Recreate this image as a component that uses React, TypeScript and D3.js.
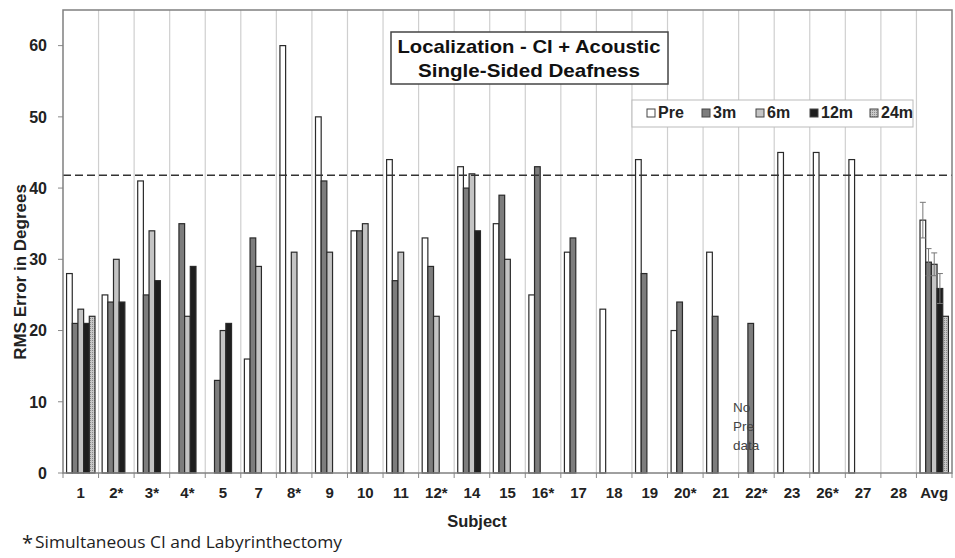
import React from "react";
import * as d3 from "d3";

const categories = ["1","2*","3*","4*","5","7","8*","9","10","11","12*","14","15","16*","17","18","19","20*","21","22*","23","26*","27","28","Avg"];
const seriesNames = ["Pre","3m","6m","12m","24m"];
const N = null;
const pre = [28,25,41,N,N,16,60,50,34,44,33,43,35,25,31,23,44,20,31,N,45,45,44,N,35.5];
const m3 = [21,24,25,35,13,33,N,41,34,27,29,40,39,43,33,N,28,24,22,21,N,N,N,N,29.6];
const m6 = [23,30,34,22,20,29,31,31,35,31,22,42,30,N,N,N,N,N,N,N,N,N,N,N,29.3];
const m12 = [21,24,27,29,21,N,N,N,N,N,N,34,N,N,N,N,N,N,N,N,N,N,N,N,25.9];
const m24 = [22,N,N,N,N,N,N,N,N,N,N,N,N,N,N,N,N,N,N,N,N,N,N,N,22];
const avgErr = [2.5,1.9,1.6,2.1,0];
const yTicks = [0,10,20,30,40,50,60];
const refLine = 41.8;

const seriesData = [pre, m3, m6, m12, m24];
const fills = ["#ffffff", "#7d7d7d", "#c4c4c4", "#1e1e1e", "url(#dots)"];

export default function App() {
  const W = 955, H = 558;
  const left = 63, right = 952, top = 10, bottom = 473;
  const x = d3.scaleBand().domain(categories).range([left, right]).paddingInner(0).paddingOuter(0);
  const inner = d3.scaleBand().domain(seriesNames).range([0, x.bandwidth()]).paddingOuter(0.63).paddingInner(0);
  const y = d3.scaleLinear().domain([0, 65]).range([bottom, top]);
  const font = "'Liberation Sans', Arial, sans-serif";
  const bw = inner.bandwidth();
  return (
    <svg width={W} height={H} style={{ position: "absolute", left: 0, top: 0, background: "#fff" }}>
      <defs>
        <pattern id="dots" width="2" height="2" patternUnits="userSpaceOnUse">
          <rect width="2" height="2" fill="#c8c8c8" />
          <rect width="1" height="1" fill="#8a8a8a" />
        </pattern>
      </defs>
      {categories.slice(1).map((c) => (
        <line key={c} x1={x(c)} x2={x(c)} y1={top} y2={bottom} stroke="#cfcfcf" strokeWidth={1.2} />
      ))}
      {categories.map((c) => (
        <line key={"t" + c} x1={x(c)} x2={x(c)} y1={bottom} y2={bottom + 5} stroke="#888" />
      ))}
      <line x1={right} x2={right} y1={bottom} y2={bottom + 5} stroke="#888" />
      {yTicks.map((t) => (
        <g key={t}>
          <line x1={left - 5} x2={left} y1={y(t)} y2={y(t)} stroke="#888" />
          <text x={47} y={y(t)} dy="0.36em" textAnchor="end" fontFamily={font} fontWeight="bold" fontSize={16} fill="#222">{t}</text>
        </g>
      ))}
      {seriesData.map((arr, si) =>
        arr.map((v, ci) => {
          if (v == null) return null;
          const bx = (x(categories[ci]) as number) + (inner(seriesNames[si]) as number);
          return (
            <rect key={si + "-" + ci} x={bx} y={y(v)} width={bw} height={bottom - y(v)} fill={fills[si]} stroke="#2a2a2a" strokeWidth={1.2} />
          );
        })
      )}
      {seriesData.map((arr, si) => {
        const ci = categories.length - 1;
        const v = arr[ci];
        const e = avgErr[si];
        if (v == null || !e) return null;
        const cx = (x(categories[ci]) as number) + (inner(seriesNames[si]) as number) + bw / 2;
        return (
          <g key={"e" + si} stroke="#777" strokeWidth={1}>
            <line x1={cx} x2={cx} y1={y(v - e)} y2={y(v + e)} />
            <line x1={cx - 3} x2={cx + 3} y1={y(v + e)} y2={y(v + e)} />
            <line x1={cx - 3} x2={cx + 3} y1={y(v - e)} y2={y(v - e)} />
          </g>
        );
      })}
      <line x1={left} x2={right} y1={y(refLine)} y2={y(refLine)} stroke="#333" strokeWidth={1.5} strokeDasharray="8,4" />
      <rect x={left} y={top} width={right - left} height={bottom - top} fill="none" stroke="#808080" strokeWidth={1.5} />
      {categories.map((c) => (
        <text key={"l" + c} x={(x(c) as number) + x.bandwidth() / 2} y={498} textAnchor="middle" fontFamily={font} fontWeight="bold" fontSize={15} fill="#222">{c}</text>
      ))}
      <text x={477} y={527} textAnchor="middle" fontFamily={font} fontWeight="bold" fontSize={16.5} fill="#222">Subject</text>
      <text transform={`translate(26,272) rotate(-90)`} textAnchor="middle" fontFamily={font} fontWeight="bold" fontSize={17} fill="#222">RMS Error in Degrees</text>
      <text x={22} y={550} fontFamily="'Open Sans', 'Liberation Sans', sans-serif" fontSize={20} fill="#222">*</text>
      <text x={35} y={548} fontFamily="'Open Sans', 'Liberation Sans', sans-serif" fontSize={16} textLength={307} lengthAdjust="spacingAndGlyphs" fill="#222">Simultaneous CI and Labyrinthectomy</text>
      <text fontFamily={font} fontSize={13.5} fill="#444">
        <tspan x={733} y={412}>No</tspan>
        <tspan x={733} y={431}>Pre</tspan>
        <tspan x={733} y={450}>data</tspan>
      </text>
      <rect x={391} y={32} width={277} height={52} fill="#fff" stroke="#444" strokeWidth={1.5} />
      <text x={529} y={53} textAnchor="middle" fontFamily={font} fontWeight="bold" fontSize={18.5} textLength={263} lengthAdjust="spacingAndGlyphs" fill="#111">Localization - CI + Acoustic</text>
      <text x={529} y={77} textAnchor="middle" fontFamily={font} fontWeight="bold" fontSize={18.5} textLength={222} lengthAdjust="spacingAndGlyphs" fill="#111">Single-Sided Deafness</text>
      <rect x={632} y={100} width={281} height={27} fill="#fff" stroke="#bbb" strokeWidth={1} />
      {seriesNames.map((s, i) => {
        const offs = [647, 702, 756, 810, 870];
        const lx = offs[i];
        return (
          <g key={"lg" + s}>
            <rect x={lx} y={109} width={8} height={8} fill={fills[i]} stroke="#444" strokeWidth={1} />
            <text x={lx + 11} y={118} fontFamily={font} fontWeight="bold" fontSize={16} fill="#222">{s}</text>
          </g>
        );
      })}
    </svg>
  );
}
